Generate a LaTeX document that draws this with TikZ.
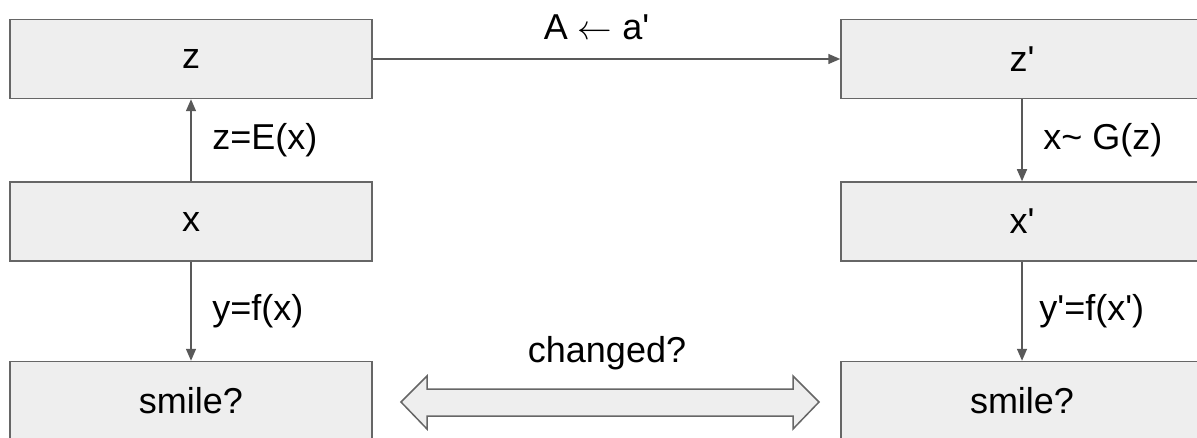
\documentclass[tikz,border=0pt]{standalone}
\usepackage{fontspec}
\setmainfont{Liberation Sans}
\usetikzlibrary{positioning, arrows.meta}

\definecolor{boxfill}{HTML}{EEEEEE}
\definecolor{boxline}{HTML}{666666}
\definecolor{arrline}{HTML}{595959}

\newcommand{\pr}{\textquotesingle}

\tikzset{
  box/.style={draw=boxline, fill=boxfill, line width=0.75pt,
    minimum width=181pt, minimum height=39.5pt, inner sep=0pt,
    font=\fontsize{18}{22}\selectfont},
  lbl/.style={font=\fontsize{18}{22}\selectfont, text=black},
  link/.style={draw=arrline, line width=0.75pt,
    -{Triangle[width=5pt,length=6pt]}}
}

\begin{document}
\begin{tikzpicture}[x=0.5pt, y=-0.5pt]
  \useasboundingbox (0,0) rectangle (1197,438);
  \clip (0,0) rectangle (1197,438);
  % left column
  \node[box] (z) at (191,59) {z};
  \node[box, below=41pt of z] (x) {x};
  \node[box, below=49.5pt of x] (s) {smile?};
  % right column
  \node[box] (zp) at (1022,59) {z\pr};
  \node[box, below=41pt of zp] (xp) {x\pr};
  \node[box, below=49.5pt of xp] (sp) {smile?};

  \draw[link] (x) -- node[lbl, right=7pt] {z=E(x)} (z);
  \draw[link] (x) -- node[lbl, right=7pt] {y=f(x)} (s);
  \draw[link] (zp) -- node[lbl, right=7pt] {x\char`\~{} G(z)} (xp);
  \draw[link] (xp) -- node[lbl, right=5pt] {y\pr=f(x\pr)} (sp);
  \draw[link] (z) -- node[lbl, above=6pt, xshift=-5pt] {A $\leftarrow$ a\pr} (zp);

  % comparison
  \draw[draw=boxline, fill=boxfill, line width=0.75pt, line join=miter]
    (401,402) -- (427,376) -- (427,389) -- (793,389) -- (793,376)
    -- (819,402) -- (793,429) -- (793,416) -- (427,416) -- (427,429) -- cycle;
  \node[lbl] (chg) at (607,353) {changed?};
\end{tikzpicture}
\end{document}
